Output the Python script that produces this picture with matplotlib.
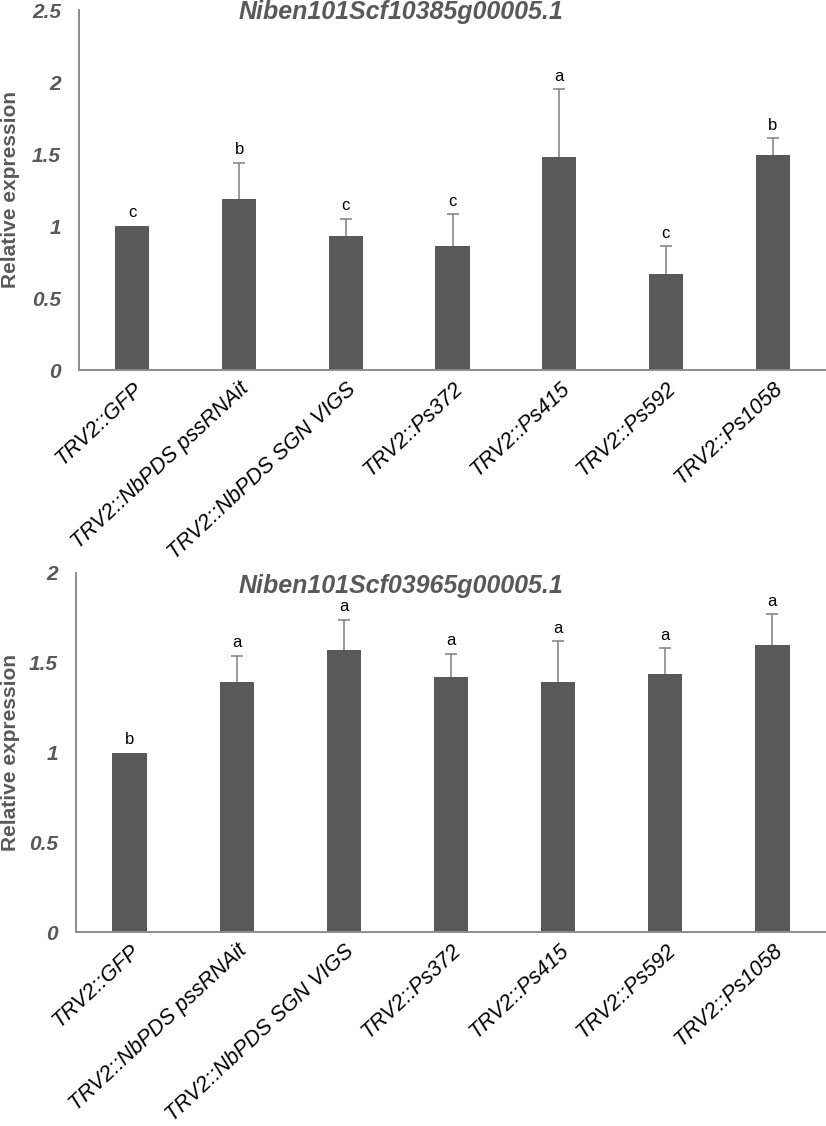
import matplotlib
matplotlib.use("Agg")
import matplotlib.pyplot as plt

plt.rcParams['font.family'] = ['Liberation Sans', 'DejaVu Sans']

labels = ['TRV2::GFP', 'TRV2::NbPDS pssRNAit', 'TRV2::NbPDS SGN VIGS',
          'TRV2::Ps372', 'TRV2::Ps415', 'TRV2::Ps592', 'TRV2::Ps1058']

# top panel
title1 = 'Niben101Scf10385g00005.1'
mean1 = [1.0, 1.19, 0.93, 0.86, 1.48, 0.67, 1.49]
err1 = [0.0, 0.25, 0.12, 0.22, 0.47, 0.19, 0.12]
let1 = ['c', 'b', 'c', 'c', 'a', 'c', 'b']
yt1 = [0, 0.5, 1, 1.5, 2, 2.5]
yt1_lab = ['0', '0.5', '1', '1.5', '2', '2.5']

# bottom panel
title2 = 'Niben101Scf03965g00005.1'
mean2 = [1.0, 1.39, 1.57, 1.42, 1.39, 1.44, 1.60]
err2 = [0.0, 0.15, 0.17, 0.13, 0.23, 0.14, 0.17]
let2 = ['b', 'a', 'a', 'a', 'a', 'a', 'a']
yt2 = [0, 0.5, 1, 1.5, 2]
yt2_lab = ['0', '0.5', '1', '1.5', '2']

bar_c = '#595959'
axis_c = '#8c8c8c'
err_c = '#7f7f7f'

fig = plt.figure(figsize=(8.26, 11.26), dpi=100)


def panel(rect, mean, err, letters, ticks, ticklabels, title, title_y):
    ax = fig.add_axes(rect)
    x = list(range(len(labels)))
    ax.bar(x, mean, width=0.32, color=bar_c, zorder=2)
    # error bars drawn behind the bars so only the upper half shows
    xe = [xi for xi, e in zip(x, err) if e > 0]
    me = [m for m, e in zip(mean, err) if e > 0]
    ee = [e for e in err if e > 0]
    ax.errorbar(xe, me, yerr=ee, fmt='none', ecolor=err_c,
                elinewidth=1.1, capsize=4, capthick=1.1, zorder=1)
    for xi, m, e, l in zip(x, mean, err, letters):
        ax.annotate(l, (xi, m + e), xytext=(0, 4), textcoords='offset points',
                    ha='center', va='bottom', fontsize=12, color='black')
    ax.set_xlim(-0.5, len(labels) - 0.5)
    ax.set_ylim(ticks[0], ticks[-1])
    ax.set_yticks(ticks)
    ax.set_yticklabels(ticklabels, fontsize=15, fontweight='bold',
                       fontstyle='italic', color='#595959')
    ax.set_xticks(x)
    ax.set_xticklabels(labels, fontsize=15.5, fontstyle='italic',
                       rotation=43, ha='right', va='top',
                       rotation_mode='anchor')
    ax.tick_params(axis='y', length=0, pad=13)
    ax.tick_params(axis='x', length=0, pad=6)
    for s in ['top', 'right']:
        ax.spines[s].set_visible(False)
    for s in ['left', 'bottom']:
        ax.spines[s].set_color(axis_c)
        ax.spines[s].set_linewidth(1.4)
    ax.set_ylabel('Relative expression', fontsize=15, fontweight='bold',
                  color='#595959', va='center')
    left_px = rect[0] * 826
    ax.yaxis.set_label_coords((11 - left_px) / (rect[2] * 826), 0.5)
    fig.text(401 / 826, title_y, title, ha='center', va='center',
             fontsize=18, fontweight='bold', fontstyle='italic', color='#595959')
    return ax


panel([79 / 826, 1 - 370 / 1126, 747 / 826, 360 / 1126],
      mean1, err1, let1, yt1, yt1_lab, title1, 1 - 12 / 1126)
panel([76 / 826, 1 - 932 / 1126, 750 / 826, 359 / 1126],
      mean2, err2, let2, yt2, yt2_lab, title2, 1 - 586 / 1126)

fig.savefig('out.png', dpi=100)
